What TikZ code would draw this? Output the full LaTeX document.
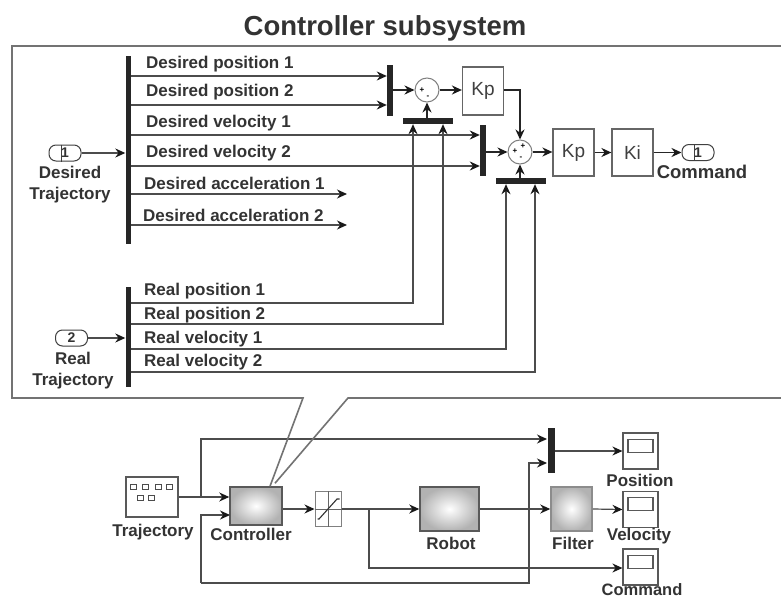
\documentclass[tikz,border=0pt]{standalone}
\usepackage{fontspec}
\setmainfont{Liberation Sans}
\usetikzlibrary{arrows.meta, shapes.geometric}

\begin{document}
\begin{tikzpicture}[
    x=1pt, y=-1pt,
    >=Stealth,
    sig/.style={->, draw=black!70, line width=1.2pt, >={Stealth[length=10pt, width=9pt, black!90]}},
    heavysig/.style={sig, draw=black!85, line width=1.8pt},
    bus/.style={rectangle, fill=black!85, inner sep=0pt},
    gainbox/.style={rectangle, draw=black!60, line width=1.2pt, fill=white, minimum width=41pt, minimum height=47pt, inner sep=0pt, font=\fontsize{19}{19}\selectfont, text=black!75},
    maskbox/.style={rectangle, draw=black!65, line width=1.5pt, shading=radial, inner color=white, outer color=black!30, inner sep=0pt},
    sumdot/.style={circle, draw=black!50, line width=1pt, fill=white, minimum size=24pt, inner sep=0pt},
    portbox/.style={rectangle, rounded corners=7pt, draw=black!75, line width=1pt, fill=white, minimum width=32pt, minimum height=16pt, inner sep=0pt, font=\fontsize{14}{14}\selectfont\bfseries, text=black!80},
    scopebox/.style={rectangle, draw=black!65, line width=1.2pt, fill=white, minimum width=35pt, minimum height=36pt, inner sep=0pt},
    scopescreen/.style={rectangle, draw=black!65, line width=1.1pt, minimum width=25pt, minimum height=13pt, inner sep=0pt},
    siglabel/.style={anchor=west, inner sep=0pt, font=\fontsize{17}{17}\selectfont\bfseries, text=black!80},
    blocklabel/.style={inner sep=0pt, align=center, font=\fontsize{17}{21}\selectfont\bfseries, text=black!80},
]

    \fill[white] (0,0) rectangle (781,599);
    \useasboundingbox (0,0) rectangle (781,599);

    \node[inner sep=0pt, font=\fontsize{27.5}{27.5}\selectfont\bfseries, text=black!80] (title) at (385,28) {Controller subsystem};

    % ===== Lower model =====
    \node[rectangle, draw=black!65, line width=1.4pt, fill=white, minimum width=52pt, minimum height=40pt, inner sep=0pt] (traj) at (152,497) {};
    \foreach \px/\py in {133/487, 145/487, 158/487, 169/487, 140/498, 151/498}
        \node[rectangle, draw=black!70, line width=1pt, minimum width=6pt, minimum height=5pt, inner sep=0pt] at (\px,\py) {};
    \node[maskbox, minimum width=52pt, minimum height=38pt] (ctrl) at (256,506) {};
    \node[rectangle, draw=black!50, line width=1pt, fill=white, minimum width=26pt, minimum height=35pt, inner sep=0pt] (sat) at (328,509) {};
    \draw[black!60, line width=0.8pt] (sat.north) -- (sat.south);
    \draw[black!60, line width=0.8pt] (sat.west) -- (sat.east);
    \draw[black!80, line width=1.1pt] ([xshift=3pt, yshift=-10pt]sat.west) -- ([xshift=-9pt, yshift=-10pt]sat.center) -- ([xshift=9pt, yshift=10pt]sat.center) -- ([xshift=-2pt, yshift=10pt]sat.east);
    \node[maskbox, minimum width=59pt, minimum height=44pt] (robot) at (449.5,509) {};
    \node[maskbox, draw=black!45, minimum width=41pt, minimum height=44pt] (filter) at (571.5,509) {};
    \node[bus, minimum width=7pt, minimum height=45pt] (muxOut) at (551,450.5) {};

    \node[scopebox] (scopeP) at (640.5,451) {};
    \node[scopescreen] at (640.5,446) {};
    \node[scopebox] (scopeV) at (640.5,509.5) {};
    \node[scopescreen] at (640.5,504) {};
    \node[scopebox] (scopeC) at (640.5,567) {};
    \node[scopescreen] at (640.5,562) {};

    \node[blocklabel] (trajLabel) at (153,532) {Trajectory};
    \node[blocklabel] (ctrlLabel) at (251,534) {Controller};
    \node[blocklabel] (robotLabel) at (451,543) {Robot};
    \node[blocklabel] (filterLabel) at (573,543) {Filter};
    \node[blocklabel] (scopePLabel) at (640,480) {Position};
    \node[blocklabel] (scopeVLabel) at (639,536) {Velocity};
    \node[blocklabel, font=\fontsize{16.5}{16.5}\selectfont\bfseries] (scopeCLabel) at (642,590) {Command};

    \coordinate (ctrlIn1) at (ctrl.west |- traj.east);
    \coordinate (ctrlIn2) at (230,515);
    \coordinate (muxIn1) at (547,439);
    \coordinate (muxIn2) at (547,463);
    \coordinate (trajTap) at (201,497);
    \coordinate (satTap) at (369,509);

    \draw[sig] (traj.east) -- (ctrlIn1);
    \draw[sig] (trajTap) -- (201,439) -- (muxIn1);
    \draw[sig] (201,583) -- (201,515) -- (ctrlIn2);
    \draw[sig] (201,583) -- (529,583) -- (529,463) -- (muxIn2);
    \draw[sig] (ctrl.east |- sat.west) -- (sat.west);
    \draw[sig] (sat.east) -- (robot.west);
    \draw[sig] (satTap) -- (369,568) -- (scopeC.west |- 369,568);
    \draw[sig] (robot.east) -- (filter.west);
    \draw[sig] (filter.east) -- (scopeV.west);
    \draw[sig] (muxOut.east |- scopeP.west) -- (scopeP.west);

    % ===== Panel frame with callout =====
    \draw[black!55, line width=1.6pt] ([xshift=14pt]ctrl.north) -- (303,398) -- (12,398) -- (12,46) -- (781,46);
    \draw[black!55, line width=1.6pt] ([xshift=19pt, yshift=3pt]ctrl.north) -- (348,398) -- (781,398);

    % ===== Controller subsystem =====
    \node[bus, minimum width=5pt, minimum height=187pt] (busD) at (128,150) {};
    \node[bus, minimum width=5pt, minimum height=100pt] (busR) at (128,337) {};
    \node[portbox] (inD) at (65,153) {1};
    \node[portbox] (inR) at (71.5,338) {2};
    \draw[black!75, line width=1pt] ([xshift=-4pt]inD.north) -- ([xshift=-4pt]inD.south);
    \node[blocklabel] (inDLabel) at (70,185) {Desired\\Trajectory};
    \node[blocklabel] (inRLabel) at (73,371) {Real\\Trajectory};

    \node[bus, minimum width=6pt, minimum height=51pt] (muxA) at (390,91) {};
    \node[sumdot] (sumA) at (427,90) {};
    \node[font=\fontsize{8}{8}\selectfont\bfseries] at (422,90) {+};
    \node[font=\fontsize{8}{8}\selectfont\bfseries] at (428,97) {-};
    \node[bus, minimum width=50pt, minimum height=6pt] (muxB) at (428,121) {};
    \node[gainbox, minimum height=48pt] (gainA) at (483,91) {Kp};

    \node[bus, minimum width=6pt, minimum height=51pt] (muxC) at (483,150.5) {};
    \node[sumdot] (sumB) at (520,152) {};
    \node[font=\fontsize{8}{8}\selectfont\bfseries] at (515,151) {+};
    \node[font=\fontsize{8}{8}\selectfont\bfseries] at (523,146) {+};
    \node[font=\fontsize{8}{8}\selectfont\bfseries] at (521,158) {-};
    \node[bus, minimum width=50pt, minimum height=6pt] (muxD) at (521,181) {};
    \node[gainbox] (gainB) at (573.5,152.5) {Kp};
    \node[gainbox] (gainC) at (632.5,152.5) {Ki};
    \node[portbox] (outC) at (698,152.5) {1};
    \draw[black!75, line width=1pt] ([xshift=-4pt]outC.north) -- ([xshift=-4pt]outC.south);
    \node[blocklabel, font=\fontsize{18.5}{18.5}\selectfont\bfseries] (outCLabel) at (702,172) {Command};

    \coordinate (endA1) at (347,194);
    \coordinate (endA2) at (347,225);

    \node[siglabel] (sigD1) at (146,64) {Desired position 1};
    \node[siglabel] (sigD2) at (146,92) {Desired position 2};
    \node[siglabel] (sigD3) at (146,123) {Desired velocity 1};
    \node[siglabel] (sigD4) at (146,153) {Desired velocity 2};
    \node[siglabel] (sigD5) at (144,183) {Desired acceleration 1};
    \node[siglabel] (sigD6) at (143,215) {Desired acceleration 2};
    \node[siglabel] (sigR1) at (144,291) {Real position 1};
    \node[siglabel] (sigR2) at (144,315) {Real position 2};
    \node[siglabel] (sigR3) at (144,339) {Real velocity 1};
    \node[siglabel] (sigR4) at (144,362) {Real velocity 2};

    \draw[sig] (inD.east) -- (busD.west |- inD.east);
    \draw[sig] (inR.east) -- (busR.west |- inR.east);
    \draw[sig] (busD.east |- 128,76) -- (muxA.west |- 128,76);
    \draw[sig] (busD.east |- 128,105) -- (muxA.west |- 128,105);
    \draw[sig] (busD.east |- 128,135) -- (muxC.west |- 128,135);
    \draw[sig] (busD.east |- 128,166) -- (muxC.west |- 128,166);
    \draw[sig] (busD.east |- endA1) -- (endA1);
    \draw[sig] (busD.east |- endA2) -- (endA2);
    \draw[sig] (busR.east |- 128,303) -- (413,303) -- (413,124 |- muxB.south);
    \draw[sig] (busR.east |- 128,324) -- (443,324) -- (443,124 |- muxB.south);
    \draw[sig] (busR.east |- 128,349) -- (506,349) -- (506,184 |- muxD.south);
    \draw[sig] (busR.east |- 128,372) -- (535,372) -- (535,184 |- muxD.south);

    \draw[heavysig] (muxA.east |- sumA.west) -- (sumA.west);
    \draw[heavysig] (muxB.north -| sumA.south) -- (sumA.south);
    \draw[heavysig] (sumA.east) -- (gainA.west |- sumA.east);
    \draw[heavysig] (gainA.east |- 483,90) -- (520,90) -- (sumB.north);
    \draw[heavysig] (muxC.east |- sumB.west) -- (sumB.west);
    \draw[heavysig] (muxD.north -| sumB.south) -- (sumB.south);
    \draw[heavysig] (sumB.east) -- (gainB.west |- sumB.east);
    \draw[heavysig] (gainB.east) -- (gainC.west);
    \draw[heavysig] (gainC.east) -- (outC.west);

\end{tikzpicture}
\end{document}
